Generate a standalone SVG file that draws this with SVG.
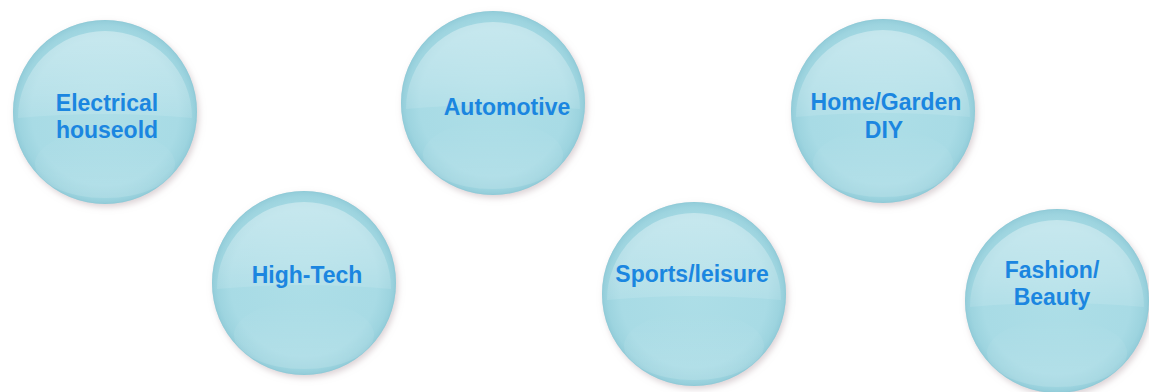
<svg xmlns="http://www.w3.org/2000/svg" xmlns:xlink="http://www.w3.org/1999/xlink" width="1149" height="392" viewBox="0 0 1149 392">
<style>
.lbl{font-family:"Liberation Sans",Arial,sans-serif;font-weight:bold;font-size:23px;fill:#1b86e0;text-anchor:middle}
</style>
<defs>
<radialGradient id="base" cx="50%" cy="50%" r="50%">
<stop offset="0" stop-color="#addee7"/>
<stop offset="0.8" stop-color="#a8dbe5"/>
<stop offset="0.94" stop-color="#9dd4df"/>
<stop offset="1" stop-color="#92ccd9"/>
</radialGradient>
<linearGradient id="gloss" x1="0" y1="0" x2="0" y2="1">
<stop offset="0" stop-color="#ffffff" stop-opacity="0.36"/>
<stop offset="0.7" stop-color="#ffffff" stop-opacity="0.2"/>
<stop offset="1" stop-color="#ffffff" stop-opacity="0.1"/>
</linearGradient>
<linearGradient id="glow" x1="0" y1="0" x2="0" y2="1">
<stop offset="0" stop-color="#ffffff" stop-opacity="0"/>
<stop offset="1" stop-color="#ffffff" stop-opacity="0.14"/>
</linearGradient>
<filter id="shadow" x="-20%" y="-20%" width="140%" height="140%">
<feDropShadow dx="2" dy="3" stdDeviation="3" flood-color="#b8a4aa" flood-opacity="0.5"/>
</filter>
<g id="bubble">
<circle r="92" fill="url(#base)" filter="url(#shadow)"/>
<path d="M-87,6 A87,87 0 0 1 87,6 Q0,-2 -87,6 Z" fill="url(#gloss)"/>
<ellipse cx="0" cy="52" rx="70" ry="34" fill="url(#glow)"/>
<circle r="91.5" fill="none" stroke="#8cc7d4" stroke-width="1" stroke-opacity="0.4"/>
</g>
</defs>
<g id="connectors"/>
<g id="node-electrical">
<use xlink:href="#bubble" x="105" y="112"/>
<text class="lbl" x="107" y="111">Electrical</text>
<text class="lbl" x="107" y="138">houseold</text>
</g>
<g id="node-automotive">
<use xlink:href="#bubble" x="493" y="103"/>
<text class="lbl" x="507" y="115">Automotive</text>
</g>
<g id="node-homegarden">
<use xlink:href="#bubble" x="883" y="111"/>
<text class="lbl" x="886" y="110">Home/Garden</text>
<text class="lbl" x="884" y="138">DIY</text>
</g>
<g id="node-hightech">
<use xlink:href="#bubble" x="304" y="283"/>
<text class="lbl" x="307" y="283">High-Tech</text>
</g>
<g id="node-sports">
<use xlink:href="#bubble" x="694" y="294"/>
<text class="lbl" x="692" y="282">Sports/leisure</text>
</g>
<g id="node-fashion">
<use xlink:href="#bubble" x="1057" y="301"/>
<text class="lbl" x="1052" y="278">Fashion/</text>
<text class="lbl" x="1052" y="305">Beauty</text>
</g>
</svg>
